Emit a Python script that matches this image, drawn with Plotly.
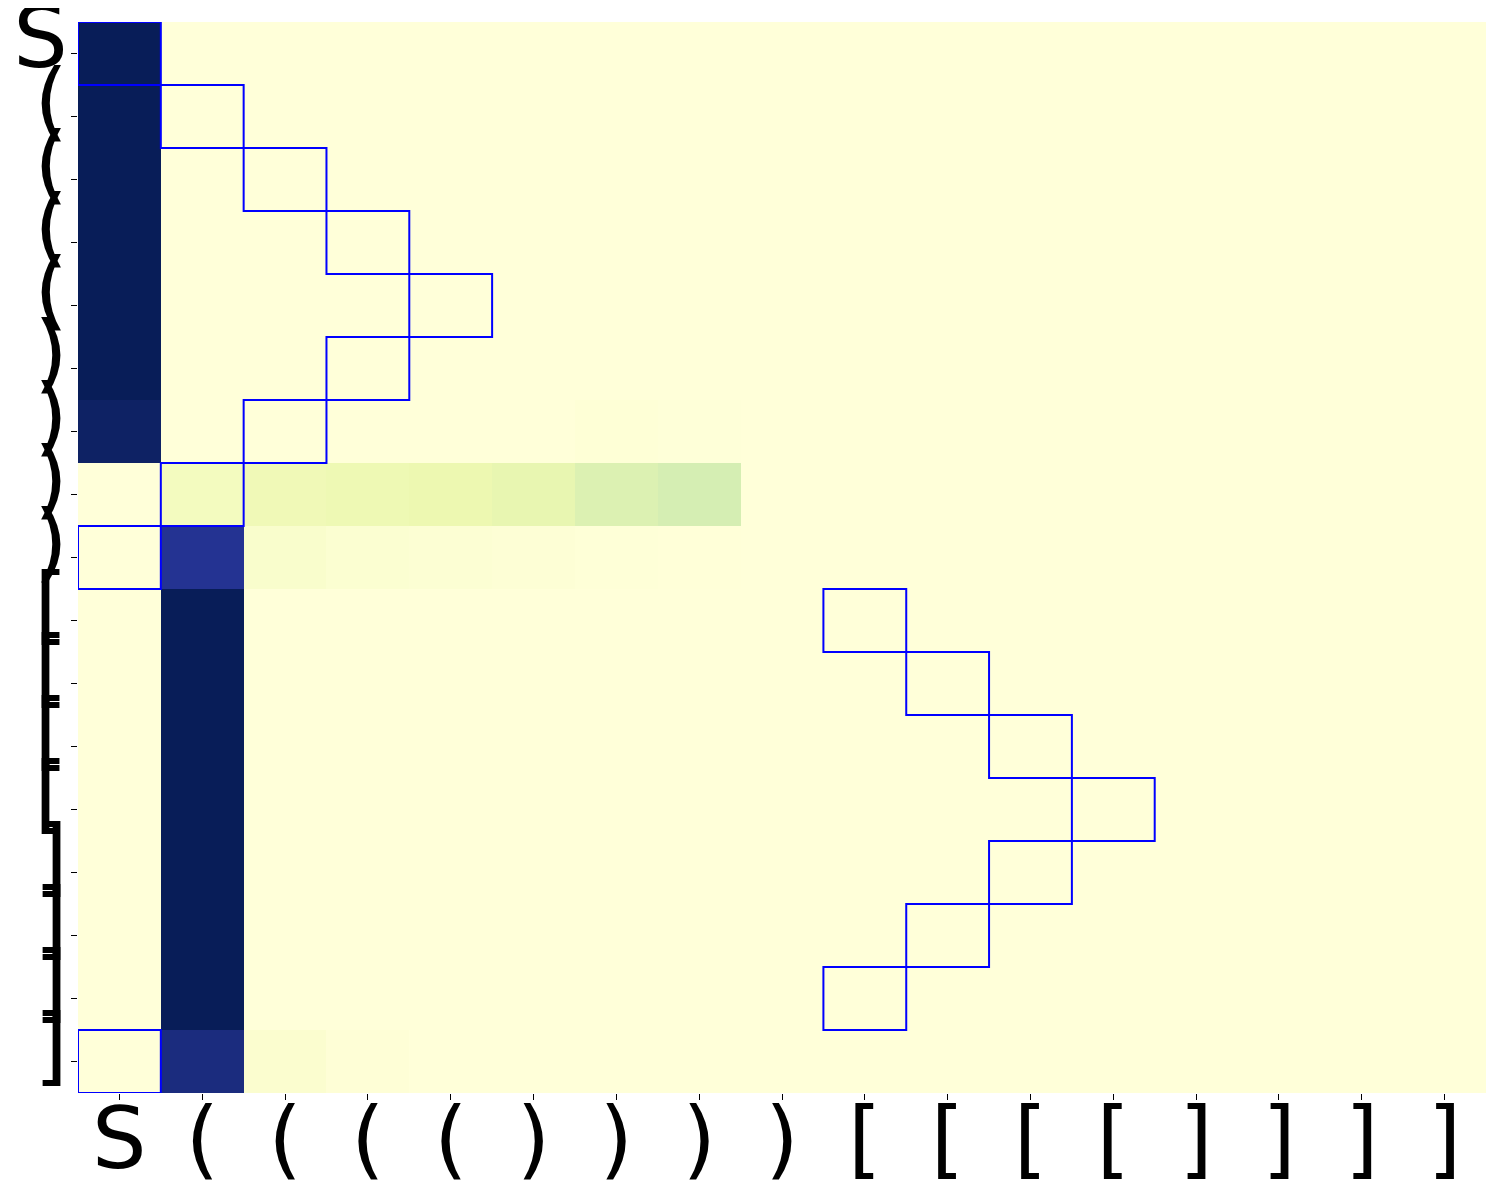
import plotly.graph_objects as go
import plotly.colors as pc

# Tokens (row and column labels)
tokens = ["S", "(", "(", "(", "(", ")", ")", ")", ")", "[", "[", "[", "[", "]", "]", "]", "]"]

# Attention-like values, one list per row (17 x 17)
row_00 = [1.00, 0, 0, 0, 0, 0, 0, 0, 0, 0, 0, 0, 0, 0, 0, 0, 0]
row_01 = [1.00, 0, 0, 0, 0, 0, 0, 0, 0, 0, 0, 0, 0, 0, 0, 0, 0]
row_02 = [1.00, 0, 0, 0, 0, 0, 0, 0, 0, 0, 0, 0, 0, 0, 0, 0, 0]
row_03 = [1.00, 0, 0, 0, 0, 0, 0, 0, 0, 0, 0, 0, 0, 0, 0, 0, 0]
row_04 = [1.00, 0, 0, 0, 0, 0, 0, 0, 0, 0, 0, 0, 0, 0, 0, 0, 0]
row_05 = [1.00, 0, 0, 0, 0, 0, 0, 0, 0, 0, 0, 0, 0, 0, 0, 0, 0]
row_06 = [0.975, 0, 0, 0, 0, 0, 0.008, 0.004, 0, 0, 0, 0, 0, 0, 0, 0, 0]
row_07 = [0.0, 0.08, 0.105, 0.115, 0.125, 0.14, 0.18, 0.205, 0, 0, 0, 0, 0, 0, 0, 0, 0]
row_08 = [0.0, 0.88, 0.04, 0.025, 0.018, 0.014, 0.005, 0.003, 0, 0, 0, 0, 0, 0, 0, 0, 0]
row_09 = [0, 1.00, 0, 0, 0, 0, 0, 0, 0, 0, 0, 0, 0, 0, 0, 0, 0]
row_10 = [0, 1.00, 0, 0, 0, 0, 0, 0, 0, 0, 0, 0, 0, 0, 0, 0, 0]
row_11 = [0, 1.00, 0, 0, 0, 0, 0, 0, 0, 0, 0, 0, 0, 0, 0, 0, 0]
row_12 = [0, 1.00, 0, 0, 0, 0, 0, 0, 0, 0, 0, 0, 0, 0, 0, 0, 0]
row_13 = [0, 1.00, 0, 0, 0, 0, 0, 0, 0, 0, 0, 0, 0, 0, 0, 0, 0]
row_14 = [0, 1.00, 0, 0, 0, 0, 0, 0, 0, 0, 0, 0, 0, 0, 0, 0, 0]
row_15 = [0, 1.00, 0, 0, 0, 0, 0, 0, 0, 0, 0, 0, 0, 0, 0, 0, 0]
row_16 = [0, 0.92, 0.03, 0.01, 0, 0, 0, 0, 0, 0, 0, 0, 0, 0, 0, 0, 0]

# Highlighted cells: column index for each row (row i -> column)
highlight_cols = [0, 1, 2, 3, 4, 3, 2, 1, 0, 9, 10, 11, 12, 11, 10, 9, 0]

z = [row_00, row_01, row_02, row_03, row_04, row_05, row_06, row_07, row_08,
     row_09, row_10, row_11, row_12, row_13, row_14, row_15, row_16]

n = len(tokens)
idx = list(range(n))

ylgnbu = pc.sequential.YlGnBu
cs = [[i / (len(ylgnbu) - 1), c] for i, c in enumerate(ylgnbu)]

fig = go.Figure(go.Heatmap(
    z=z, x=idx, y=idx, colorscale=cs, zmin=0, zmax=1, showscale=False,
    xgap=0, ygap=0, hoverongaps=False,
))
# empty trace so that the label-only overlay axis is drawn
fig.add_trace(go.Scatter(x=[], y=[], yaxis="y2", showlegend=False, hoverinfo="skip"))

shapes = []
for r, c in enumerate(highlight_cols):
    shapes.append(dict(type="rect", xref="x", yref="y",
                       x0=c - 0.5, x1=c + 0.5, y0=r - 0.5, y1=r + 0.5,
                       line=dict(color="#0000ff", width=2), fillcolor="rgba(0,0,0,0)"))

font = dict(family="DejaVu Sans", size=86, color="black")
label_shift = 0.27  # matplotlib-style vertical centring of large labels

fig.update_layout(
    width=1500, height=1200,
    margin=dict(l=70, r=22, t=14, b=115),
    paper_bgcolor="white", plot_bgcolor="white",
    shapes=shapes, showlegend=False,
    xaxis=dict(tickvals=idx, ticktext=tokens, range=[-0.5, n - 0.5],
               ticks="outside", ticklen=6, tickwidth=1, tickcolor="black",
               tickfont=font, showgrid=False, zeroline=False, showline=False,
               tickangle=0, fixedrange=True, automargin=False,
               ticklabelstandoff=-35, ticklabeloverflow="allow"),
    yaxis=dict(tickvals=idx, range=[n - 0.5, -0.5], showticklabels=False,
               ticks="outside", ticklen=6, tickwidth=1, tickcolor="black",
               showgrid=False, zeroline=False, showline=False,
               fixedrange=True, automargin=False),
    yaxis2=dict(overlaying="y", side="left", anchor="x",
                tickvals=idx, ticktext=tokens,
                range=[n - 0.5 + label_shift, -0.5 + label_shift],
                ticks="outside", ticklen=6, tickcolor="rgba(0,0,0,0)",
                tickfont=font, showgrid=False, zeroline=False,
                showline=False, fixedrange=True, automargin=False,
                ticklabelstandoff=-14, ticklabeloverflow="allow"),
)

fig.write_html("out.html")
